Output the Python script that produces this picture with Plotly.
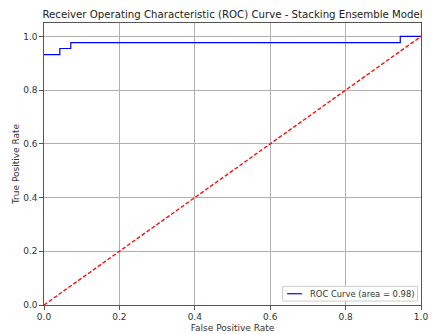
import plotly.graph_objects as go

# ROC curve points for the stacking ensemble
fpr = [0.0, 0.042, 0.042, 0.071, 0.071, 0.945, 0.945, 1.0]
tpr = [0.932, 0.932, 0.955, 0.955, 0.977, 0.977, 1.0, 1.0]
roc_auc = 0.98

# chance line
diag_x = [0.0, 1.0]
diag_y = [0.0, 1.0]

tick_vals = [0.0, 0.2, 0.4, 0.6, 0.8, 1.0]
tick_text = ["0.0", "0.2", "0.4", "0.6", "0.8", "1.0"]

font = "DejaVu Sans, Liberation Sans, sans-serif"
label = f"ROC Curve (area = {roc_auc:.2f})"

fig = go.Figure()
fig.add_trace(go.Scatter(
    x=fpr, y=tpr, mode="lines",
    line=dict(color="blue", width=1.2),
    name=label, showlegend=False,
))
fig.add_trace(go.Scatter(
    x=diag_x, y=diag_y, mode="lines",
    line=dict(color="red", width=1.3, dash="4px,2px"),
    showlegend=False,
))

axis_common = dict(
    showgrid=True, gridcolor="#b0b0b0", gridwidth=0.8,
    showline=True, linecolor="#555555", linewidth=1.3, mirror=True,
    layer="above traces",
    ticks="outside", ticklen=3.5, tickcolor="#555555",
    tickvals=tick_vals, ticktext=tick_text,
    tickfont=dict(family=font, size=9, color="#333333"),
    zeroline=False, automargin=False,
)

fig.update_layout(
    width=432, height=334,
    margin=dict(l=44, r=11, t=23, b=29),
    paper_bgcolor="white", plot_bgcolor="white",
    title=dict(
        text="Receiver Operating Characteristic (ROC) Curve - Stacking Ensemble Model",
        x=0.5, xanchor="center", xref="paper", y=0.958, yanchor="middle",
        font=dict(family=font, size=10.2, color="#222222"),
    ),
    xaxis=dict(range=[0, 1], title=dict(text="False Positive Rate", standoff=3,
               font=dict(family=font, size=9, color="#333333")), **axis_common),
    yaxis=dict(range=[0, 1.05], title=dict(text="True Positive Rate", standoff=2,
               font=dict(family=font, size=9, color="#333333")), **axis_common),
    showlegend=False,
)

# compact legend box in the lower right corner
fig.add_shape(type="rect", xref="paper", yref="paper",
              x0=0.633, x1=0.991, y0=0.014, y1=0.066,
              line=dict(color="#cccccc", width=1), fillcolor="white", layer="above")
fig.add_shape(type="line", xref="paper", yref="paper",
              x0=0.645, x1=0.684, y0=0.040, y1=0.040,
              line=dict(color="blue", width=1.2), layer="above")
fig.add_annotation(text=label, xref="paper", yref="paper",
                   x=0.700, y=0.040, xanchor="left", yanchor="middle",
                   showarrow=False, font=dict(family=font, size=8.4, color="#333333"))

fig.write_html("out.html")
